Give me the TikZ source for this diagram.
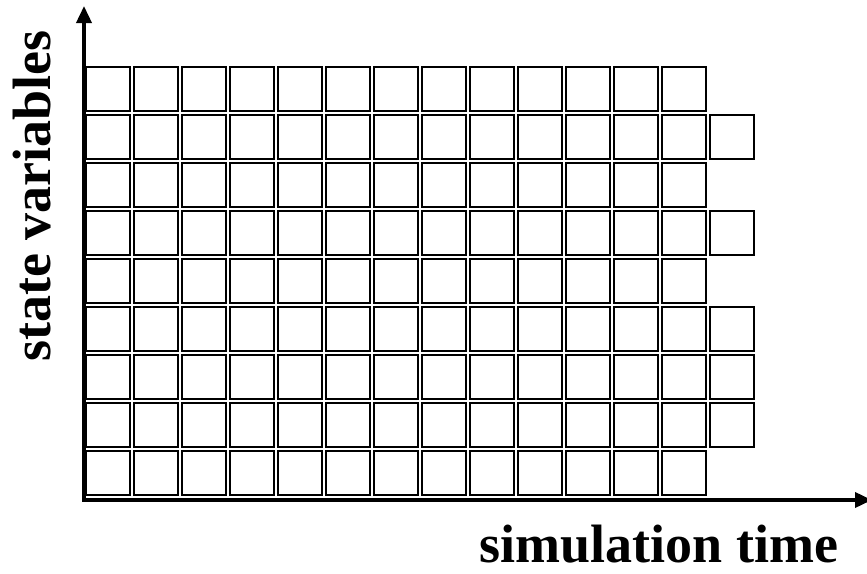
\documentclass[tikz,border=0pt]{standalone}
\usepackage{fontspec}
\setmainfont{Liberation Serif}
\usetikzlibrary{arrows.meta}
\begin{document}
\begin{tikzpicture}[x=1pt,y=-1pt,
  cell/.style={draw=black,line width=1.8pt,fill=white,rectangle,inner sep=0pt,
    minimum width=44.5pt,minimum height=44.5pt,anchor=north west,shift={(0.9pt,-0.9pt)}},
  axisline/.style={line width=3.6pt,-{Triangle[length=17pt,width=15pt]}},
  label/.style={font=\bfseries\fontsize{54}{60}\selectfont,inner sep=0pt}]
\useasboundingbox (0,0) rectangle (867,573);
\clip (0,0) rectangle (867,573);
% grid of cells
\foreach \r in {0,...,8}{
  \foreach \c in {0,...,12}{
    \node[cell] (c-\r-\c) at ({84+48*\c},{65+48*\r}) {};
  }
}
\foreach \r in {1,3,5,6,7}{
  \node[cell] (c-\r-13) at ({84+48*13},{65+48*\r}) {};
}
% axes
\coordinate (O) at (84,500);
\coordinate (ytip) at (84,6);
\coordinate (xtip) at (872,500);
\draw[axisline] (O) -- (ytip);
\draw[axisline] ([xshift=-1.8pt]O) -- (xtip);
% labels
\node[label,anchor=base] (xlab) at (659,562) {simulation time};
\node[label,anchor=base,rotate=90] (ylab) at (50,196) {state variables};
\end{tikzpicture}
\end{document}
